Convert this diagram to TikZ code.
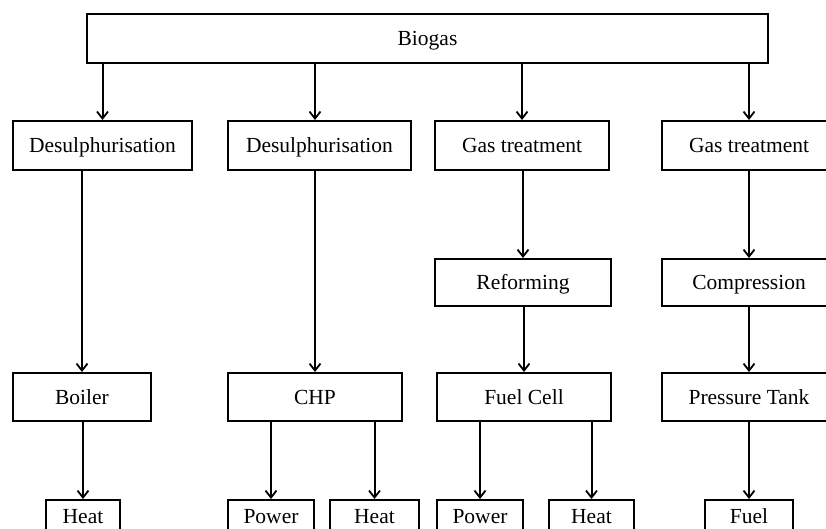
\documentclass[tikz,border=0pt]{standalone}
\usepackage{fontspec}
\setmainfont{Liberation Serif}
\usetikzlibrary{arrows.meta}
\begin{document}
\begin{tikzpicture}[x=1pt,y=-1pt,
  box/.style={draw, line width=2pt, rectangle, inner sep=0pt,
    font=\fontsize{21.5}{25}\selectfont, text height=15pt, text depth=1pt,
    minimum height=48pt},
  leaf/.style={box, minimum height=32pt},
  arr/.style={line width=2pt, -{Straight Barb[length=7pt,width=11pt,line width=1.8pt]}}]
  \clip (0,0) rectangle (826,528);
  \useasboundingbox (0,0) rectangle (826,528);

  % source
  \node[box, minimum width=681pt, minimum height=49pt] (biogas) at (427.5,38.5) {Biogas};

  % first treatment step
  \node[box, minimum width=179pt, minimum height=49pt] (d1) at (102.5,145.5) {Desulphurisation};
  \node[box, minimum width=183pt, minimum height=49pt] (d2) at (319.5,145.5) {Desulphurisation};
  \node[box, minimum width=174pt, minimum height=49pt] (g1) at (522,145.5) {Gas treatment};
  \node[box, minimum width=174pt, minimum height=49pt] (g2) at (749,145.5) {Gas treatment};

  % intermediate step
  \node[box, minimum width=176pt, minimum height=47pt] (ref) at (523,282.5) {Reforming};
  \node[box, minimum width=174pt, minimum height=47pt] (comp) at (749,282.5) {Compression};

  % conversion units
  \node[box, minimum width=138pt] (boiler) at (82,397) {Boiler};
  \node[box, minimum width=174pt] (chp) at (315,397) {CHP};
  \node[box, minimum width=174pt] (fc) at (524,397) {Fuel Cell};
  \node[box, minimum width=174pt] (tank) at (749,397) {Pressure Tank};

  % products
  \node[leaf, minimum width=74pt] (heatA) at (83,516) {Heat};
  \node[leaf, minimum width=86pt] (powerA) at (271,516) {Power};
  \node[leaf, minimum width=89pt] (heatB) at (374.5,516) {Heat};
  \node[leaf, minimum width=86pt] (powerB) at (480,516) {Power};
  \node[leaf, minimum width=85pt] (heatC) at (591.5,516) {Heat};
  \node[leaf, minimum width=88pt] (fuel) at (749,516) {Fuel};

  % connectors
  \draw[arr] (biogas.south -| d1.north) -- (d1.north);
  \draw[arr] (biogas.south -| chp.north) -- (d2.north -| chp.north);
  \draw[arr] (biogas.south -| g1.north) -- (g1.north);
  \draw[arr] (biogas.south -| g2.north) -- (g2.north);

  \draw[arr] (d1.south -| boiler.north) -- (boiler.north);
  \draw[arr] (d2.south -| chp.north) -- (chp.north);
  \draw[arr] (g1.south -| ref.north) -- (ref.north);
  \draw[arr] (g2.south -| comp.north) -- (comp.north);
  \draw[arr] (ref.south -| fc.north) -- (fc.north);
  \draw[arr] (comp.south -| tank.north) -- (tank.north);

  \draw[arr] (boiler.south -| heatA.north) -- (heatA.north);
  \draw[arr] (chp.south -| powerA.north) -- (powerA.north);
  \draw[arr] (chp.south -| heatB.north) -- (heatB.north);
  \draw[arr] (fc.south -| powerB.north) -- (powerB.north);
  \draw[arr] (fc.south -| heatC.north) -- (heatC.north);
  \draw[arr] (tank.south -| fuel.north) -- (fuel.north);
\end{tikzpicture}
\end{document}
